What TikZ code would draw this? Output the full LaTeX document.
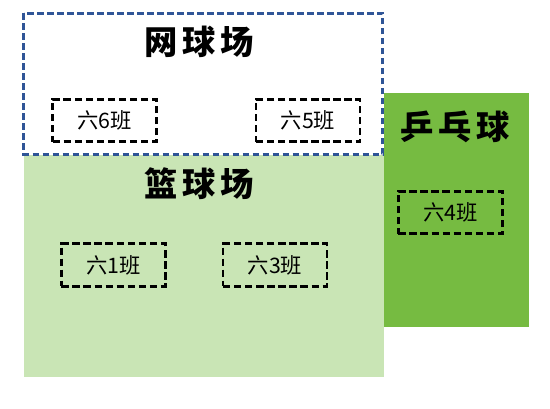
\documentclass[tikz,border=0pt]{standalone}
\usepackage{fontspec}
\newfontfamily\cjk{Noto Sans CJK SC}
\tikzset{every picture/.style={line width=0.75pt}}
\tikzset{
	court title/.style={font=\cjk\bfseries\fontsize{25}{25}\selectfont\addfontfeatures{LetterSpace=14}},
	class box/.style={draw=black, line width=2.1pt, dash pattern=on 5.5pt off 2.8pt, minimum width=78pt, minimum height=32pt, inner sep=0pt, font=\cjk\fontsize{16}{16}\selectfont}}

\begin{document}
\begin{tikzpicture}[x=0.75pt,y=0.75pt,yscale=-1,xscale=1]
	\useasboundingbox (0,0) rectangle (550,409);

	%Shape: Rectangle [basketball court]
	\fill [fill={rgb, 255:red, 201; green, 229; blue, 181 }] (24,155) rectangle (384,377);
	%Shape: Rectangle [table tennis]
	\fill [fill={rgb, 255:red, 118; green, 187; blue, 65 }] (383.5,93) rectangle (529,327);
	%Shape: Rectangle [tennis court]
	\draw [color={rgb, 255:red, 47; green, 85; blue, 151 }, line width=1.8pt, dash pattern=on 5pt off 2.5pt] (23.5,13.5) rectangle (382.5,154.5);

	% Text Node
	\node [court title] (tennis) at (199,42) {网球场};
	% Text Node
	\node [court title] (basket) at (199,184) {篮球场};
	% Text Node
	\node [court title] (pingpong) at (455,127) {乒乓球};

	% Class Node
	\node [class box] (six6) at (104.5,120.5) {六6班};
	% Class Node
	\node [class box] (six5) at (308,120.5) {六5班};
	% Class Node
	\node [class box] (six1) at (113.3,265) {六1班};
	% Class Node
	\node [class box] (six3) at (275,265) {六3班};
	% Class Node
	\node [class box] (six4) at (450.3,212.5) {六4班};

\end{tikzpicture}
\end{document}
